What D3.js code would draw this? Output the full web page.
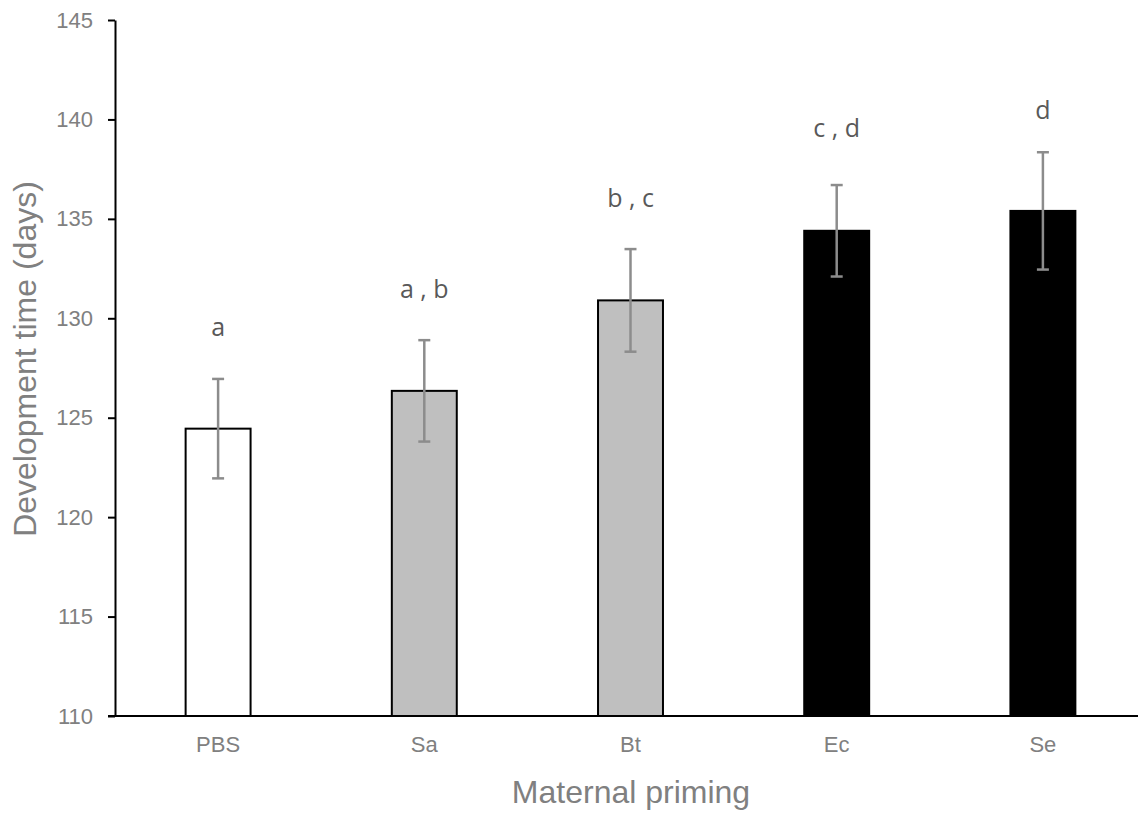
<!DOCTYPE html>
<html>
<head>
<meta charset="utf-8">
<script src="https://cdn.jsdelivr.net/npm/d3@7/dist/d3.min.js"></script>
<style>
  html, body { margin: 0; padding: 0; background: #fff; }
  svg { display: block; }
</style>
</head>
<body>
<svg id="chart" width="1138" height="814"></svg>
<script>
// ---- data ----
const categories = ["PBS", "Sa", "Bt", "Ec", "Se"];
const means      = [124.45, 126.35, 130.9, 134.4, 135.4];
const errors     = [2.5, 2.55, 2.58, 2.3, 2.95];
const fills      = ["#ffffff", "#bfbfbf", "#bfbfbf", "#000000", "#000000"];
const groupLabels = ["a", "a , b", "b , c", "c , d", "d"];
const groupLabelY = [129.1, 131.0, 135.6, 139.1, 140.0];
const yTicks     = [110, 115, 120, 125, 130, 135, 140, 145];
const yDomain    = [110, 145];
const xTitle = "Maternal priming";
const yTitle = "Development time (days)";

// ---- layout ----
const svg = d3.select("#chart");
const mLeft = 115, mRight = 1146, mTop = 20, mBottom = 716;

const x = d3.scaleBand().domain(categories).range([mLeft, mRight]).paddingInner(0.685).paddingOuter(0.3425);
const y = d3.scaleLinear().domain(yDomain).range([mBottom, mTop]);

const tickFont = "'Liberation Sans', Arial, sans-serif";

// y axis
const yAxis = svg.append("g")
  .attr("transform", `translate(${mLeft},0)`)
  .call(d3.axisLeft(y).tickValues(yTicks).tickSize(7).tickSizeOuter(0).tickPadding(15).tickFormat(d3.format("d")));
yAxis.select(".domain").attr("stroke", "#000").attr("stroke-width", 2);
yAxis.selectAll(".tick line").attr("stroke", "#000").attr("stroke-width", 2);
yAxis.selectAll(".tick text")
  .attr("fill", "#808080").style("font-family", tickFont).style("font-size", "22px");

// bars
svg.append("g").selectAll("rect")
  .data(categories)
  .join("rect")
  .attr("x", d => x(d))
  .attr("width", x.bandwidth())
  .attr("y", (d, i) => y(means[i]))
  .attr("height", (d, i) => y(yDomain[0]) - y(means[i]))
  .attr("fill", (d, i) => fills[i])
  .attr("stroke", "#000")
  .attr("stroke-width", 2);

// x axis (no ticks)
const xAxis = svg.append("g")
  .attr("transform", `translate(0,${mBottom})`)
  .call(d3.axisBottom(x).tickSize(0).tickPadding(20));
xAxis.select(".domain").attr("stroke", "#000").attr("stroke-width", 2)
  .attr("d", `M${mLeft - 7},0H${mRight}`);
xAxis.selectAll(".tick text")
  .attr("fill", "#808080").style("font-family", tickFont).style("font-size", "22px");

// error bars
const eb = svg.append("g").attr("stroke", "#8c8c8c").attr("stroke-width", 2.5);
categories.forEach((c, i) => {
  const cx = x(c) + x.bandwidth() / 2;
  const y1 = y(means[i] + errors[i]);
  const y2 = y(means[i] - errors[i]);
  eb.append("line").attr("x1", cx).attr("x2", cx).attr("y1", y1).attr("y2", y2);
  eb.append("line").attr("x1", cx - 6).attr("x2", cx + 6).attr("y1", y1).attr("y2", y1);
  eb.append("line").attr("x1", cx - 6).attr("x2", cx + 6).attr("y1", y2).attr("y2", y2);
});

// significance letters
svg.append("g").selectAll("text")
  .data(categories)
  .join("text")
  .attr("x", d => x(d) + x.bandwidth() / 2)
  .attr("y", (d, i) => y(groupLabelY[i]))
  .attr("text-anchor", "middle")
  .attr("fill", "#595959")
  .style("font-family", "'Open Sans', sans-serif")
  .style("font-size", "25px")
  .text((d, i) => groupLabels[i]);

// axis titles
svg.append("text")
  .attr("x", 631)
  .attr("y", 803)
  .attr("text-anchor", "middle")
  .attr("fill", "#808080")
  .style("font-family", tickFont)
  .style("font-size", "32px")
  .text(xTitle);

svg.append("text")
  .attr("transform", `translate(36,359) rotate(-90)`)
  .attr("text-anchor", "middle")
  .attr("fill", "#808080")
  .style("font-family", tickFont)
  .style("font-size", "32px")
  .text(yTitle);
</script>
</body>
</html>
